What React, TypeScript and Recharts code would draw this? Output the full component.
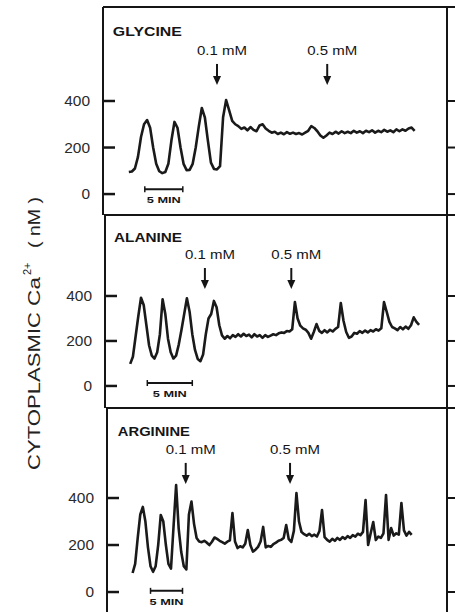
import { LineChart, Line, XAxis, YAxis, ReferenceLine, ReferenceDot } from 'recharts';

const FONT = '"Liberation Sans", Arial, Helvetica, sans-serif';
const INK = '#151515';

const CA_TICKS = [0, 200, 400];
const DOSE_LABELS = ['0.1 mM', '0.5 mM'];
const SCALE_BAR_MIN = 5;

// cytoplasmic Ca2+ (nM), one reading every STEP minutes from START
const GLYCINE_START = 3.4;
const GLYCINE_STEP = 0.4;
const GLYCINE_CA = [
  95, 97, 110, 160, 245, 300, 318, 285, 200, 130,
  98, 90, 95, 130, 230, 310, 285, 200, 130, 103,
  104, 130, 200, 290, 370, 330, 230, 135, 108, 106,
  120, 330, 404, 360, 315, 300, 292, 280, 286, 274,
  288, 276, 270, 295, 300, 282, 272, 264, 268, 258,
  264, 257, 266, 259, 264, 258, 262, 256, 264, 272,
  292, 284, 270, 252, 242, 252, 264, 258, 268, 260,
  270, 262, 268, 262, 272, 264, 270, 262, 272, 266,
  274, 264, 272, 266, 276, 268, 274, 266, 278, 270,
  278, 272, 282, 286, 272,
];
const GLYCINE_DOSES = [15.0, 29.5];

const ALANINE_START = 2.8;
const ALANINE_STEP = 0.3;
const ALANINE_CA = [
  98, 130, 220, 310, 392, 360, 270, 180, 135, 122,
  150, 230, 385, 320, 210, 150, 122, 135, 185, 250,
  320, 390, 330, 230, 160, 120, 110, 140, 230, 300,
  320, 378, 350, 270, 225, 210, 222, 212, 226, 218,
  230, 220, 232, 222, 228, 216, 230, 220, 226, 214,
  226, 218, 224, 230, 226, 234, 238, 236, 244, 242,
  252, 373, 300, 268, 256, 250, 236, 210, 240, 275,
  245, 236, 248, 238, 250, 242, 254, 262, 369, 290,
  240, 214, 220, 236, 232, 244, 236, 246, 238, 248,
  242, 252, 246, 256, 373, 330, 285, 262, 256, 248,
  262, 252, 264, 254, 270, 305, 285, 272,
];
const ALANINE_DOSES = [11.1, 20.7];

const ARGININE_START = 4.0;
const ARGININE_STEP = 0.4;
const ARGININE_CA = [
  81, 120, 230, 330, 362, 300, 190, 110, 86, 110,
  200, 328, 300, 200, 120, 100, 280, 455, 270, 170,
  110, 96, 330, 385, 290, 230, 215, 212, 218, 210,
  200, 214, 232, 226, 218, 212, 206, 214, 220, 336,
  215, 187, 195, 190, 205, 264, 200, 172, 180, 192,
  215, 277, 190, 196, 192, 204, 210, 218, 222, 230,
  285, 225, 213, 260, 421, 300, 255, 246, 240, 248,
  238, 244, 236, 260, 349, 234, 222, 214, 226, 218,
  230, 222, 234, 226, 238, 230, 242, 236, 248, 242,
  256, 391, 200, 250, 298, 221, 236, 230, 250, 413,
  222, 272, 240, 250, 244, 379, 262, 240, 256, 243,
];
const ARGININE_DOSES = [12.3, 28.6];

const toRows = (start: number, step: number, ca: number[]) =>
  ca.map((v, i) => ({ t: +(start + i * step).toFixed(2), ca: v }));

// pxPerMin: horizontal scale of each trace (the 5 MIN bars differ per panel)
const PANELS = [
  {
    name: 'GLYCINE', rows: toRows(GLYCINE_START, GLYCINE_STEP, GLYCINE_CA), doses: GLYCINE_DOSES,
    top: 0, height: 215, marginTop: 7, axisWidth: 103, xMax: 45.26, pxPerMin: 7.6, yDomain: [-90, 804],
    arrowCa: 469, barStart: 5.5, barCa: 21, titleAt: [1.3, 697], titleWidth: 69, closed: true,
  },
  {
    name: 'ALANINE', rows: toRows(ALANINE_START, ALANINE_STEP, ALANINE_CA), doses: ALANINE_DOSES,
    top: 215, height: 193, marginTop: 0, axisWidth: 105, xMax: 38, pxPerMin: 9, yDomain: [-98, 760],
    arrowCa: 431, barStart: 4.7, barCa: 13, titleAt: [1.0, 658], titleWidth: 68, closed: true,
  },
  {
    name: 'ARGININE', rows: toRows(ARGININE_START, ARGININE_STEP, ARGININE_CA), doses: ARGININE_DOSES,
    top: 408, height: 204, marginTop: 0, axisWidth: 107, xMax: 53.125, pxPerMin: 6.4, yDomain: [-85, 783],
    arrowCa: 460, barStart: 6.8, barCa: 5, titleAt: [1.7, 685], titleWidth: 72, closed: false,
  },
];

const LABEL_GAP = 13;

const caTick = (props: any) => {
  const label = String(props.payload.value);
  return (
    <text x={props.x} y={props.y} dy="0.36em" textAnchor="end" fontSize={14} fill="#2a2a2a"
      fontFamily={FONT} textLength={label.length * 8.6} lengthAdjust="spacingAndGlyphs">
      {label}
    </text>
  );
};

// short inward tick on the left frame, drawn between the segment's end points
const frameTick = (props: any) => (
  <line x1={props.x1} y1={props.y1} x2={props.x2} y2={props.y2} stroke={INK} strokeWidth={2.5} />
);

const doseArrow = (label: string) => (props: any) => {
  const { cx, cy } = props;
  return (
    <g>
      <line x1={cx} y1={cy - 21} x2={cx} y2={cy - 7} stroke={INK} strokeWidth={2} />
      <polygon points={`${cx - 4},${cy - 9} ${cx + 4},${cy - 9} ${cx},${cy}`} fill={INK} />
      <text x={cx + 5} y={cy - 30} textAnchor="middle" fontSize={12.5} fill={INK} fontFamily={FONT}
        textLength={50} lengthAdjust="spacingAndGlyphs">
        {label}
      </text>
    </g>
  );
};

const scaleBar = (props: any) => {
  const { x1, y1, x2 } = props;
  return (
    <g stroke={INK} strokeWidth={2}>
      <line x1={x1} y1={y1} x2={x2} y2={y1} />
      <line x1={x1} y1={y1 - 3} x2={x1} y2={y1 + 3} strokeWidth={1.5} />
      <line x1={x2} y1={y1 - 3} x2={x2} y2={y1 + 3} strokeWidth={1.5} />
      <text x={(x1 + x2) / 2} y={y1 + 14} textAnchor="middle" fontSize={9} fontWeight="bold"
        stroke="none" fill={INK} fontFamily={FONT} textLength={34} lengthAdjust="spacingAndGlyphs">
        {SCALE_BAR_MIN} MIN
      </text>
    </g>
  );
};

const title = (name: string, width: number) => (props: any) => (
  <text x={props.cx} y={props.cy + 4.5} fontSize={12} fontWeight="bold" fill={INK} fontFamily={FONT}
    textLength={width} lengthAdjust="spacingAndGlyphs">
    {name}
  </text>
);

const Panel = ({ p }: { p: (typeof PANELS)[number] }) => {
  const [yMin, yMax] = p.yDomain;
  const inTick = 12 / p.pxPerMin;
  const outTick = 8 / p.pxPerMin;
  return (
    <div style={{ position: 'absolute', left: 0, top: p.top }}>
      <LineChart width={455} height={p.height} data={p.rows}
        margin={{ top: p.marginTop, right: 0, bottom: 0, left: 0 }}>
        <XAxis dataKey="t" type="number" domain={[0, p.xMax]} allowDataOverflow hide />
        <YAxis yAxisId="l" type="number" domain={p.yDomain} allowDataOverflow ticks={CA_TICKS}
          interval={0} width={p.axisWidth} tickSize={0} tickMargin={LABEL_GAP} tickLine={false}
          axisLine={{ stroke: INK, strokeWidth: 2 }} tick={caTick} />
        <YAxis yAxisId="r" orientation="right" type="number" domain={p.yDomain} allowDataOverflow
          ticks={CA_TICKS} interval={0} width={8} tick={false} tickLine={false}
          axisLine={{ stroke: INK, strokeWidth: 2 }} />
        {CA_TICKS.map((v) => (
          <ReferenceLine key={`in${v}`} yAxisId="l" ifOverflow="visible" shape={frameTick}
            segment={[{ x: 0.01, y: v }, { x: inTick, y: v }]} />
        ))}
        {CA_TICKS.map((v) => (
          <ReferenceLine key={`out${v}`} yAxisId="l" stroke={INK} strokeWidth={2} ifOverflow="visible"
            segment={[{ x: p.xMax, y: v }, { x: p.xMax + outTick, y: v }]} />
        ))}
        <ReferenceLine yAxisId="l" stroke={INK} strokeWidth={2} ifOverflow="visible"
          segment={[{ x: 0, y: yMax }, { x: p.xMax + outTick, y: yMax }]} />
        {p.closed && (
          <ReferenceLine yAxisId="l" stroke={INK} strokeWidth={2} ifOverflow="visible"
            segment={[{ x: 0, y: yMin }, { x: p.xMax + outTick, y: yMin }]} />
        )}
        <Line yAxisId="l" dataKey="ca" type="linear" dot={false} activeDot={false}
          stroke="#1a1a1a" strokeWidth={2.6} strokeLinejoin="round" isAnimationActive={false} />
        {p.doses.map((t, i) => (
          <ReferenceDot key={t} yAxisId="l" x={t} y={p.arrowCa} r={0}
            shape={doseArrow(DOSE_LABELS[i])} />
        ))}
        <ReferenceLine yAxisId="l"
          segment={[{ x: p.barStart, y: p.barCa }, { x: p.barStart + SCALE_BAR_MIN, y: p.barCa }]}
          shape={scaleBar} />
        <ReferenceDot yAxisId="l" x={p.titleAt[0]} y={p.titleAt[1]} r={0}
          shape={title(p.name, p.titleWidth)} />
      </LineChart>
    </div>
  );
};

export default function App() {
  return (
    <div style={{ position: 'absolute', left: 0, top: 0, width: 455, height: 612,
      overflow: 'hidden', background: '#fff', fontFamily: FONT }}>
      {PANELS.map((p) => <Panel key={p.name} p={p} />)}
      <svg width={60} height={612} style={{ position: 'absolute', left: 0, top: 0 }}>
        <g transform="translate(40 470) rotate(-90)" fill="#222" fontSize={17} fontFamily={FONT}>
          <text x={0} y={0} textLength={158} lengthAdjust="spacingAndGlyphs">CYTOPLASMIC</text>
          <text x={164} y={0} textLength={29} lengthAdjust="spacingAndGlyphs">Ca</text>
          <text x={195} y={-9} fontSize={11}>2+</text>
          <text x={222} y={0} textLength={51} lengthAdjust="spacingAndGlyphs">( nM )</text>
        </g>
      </svg>
    </div>
  );
}
